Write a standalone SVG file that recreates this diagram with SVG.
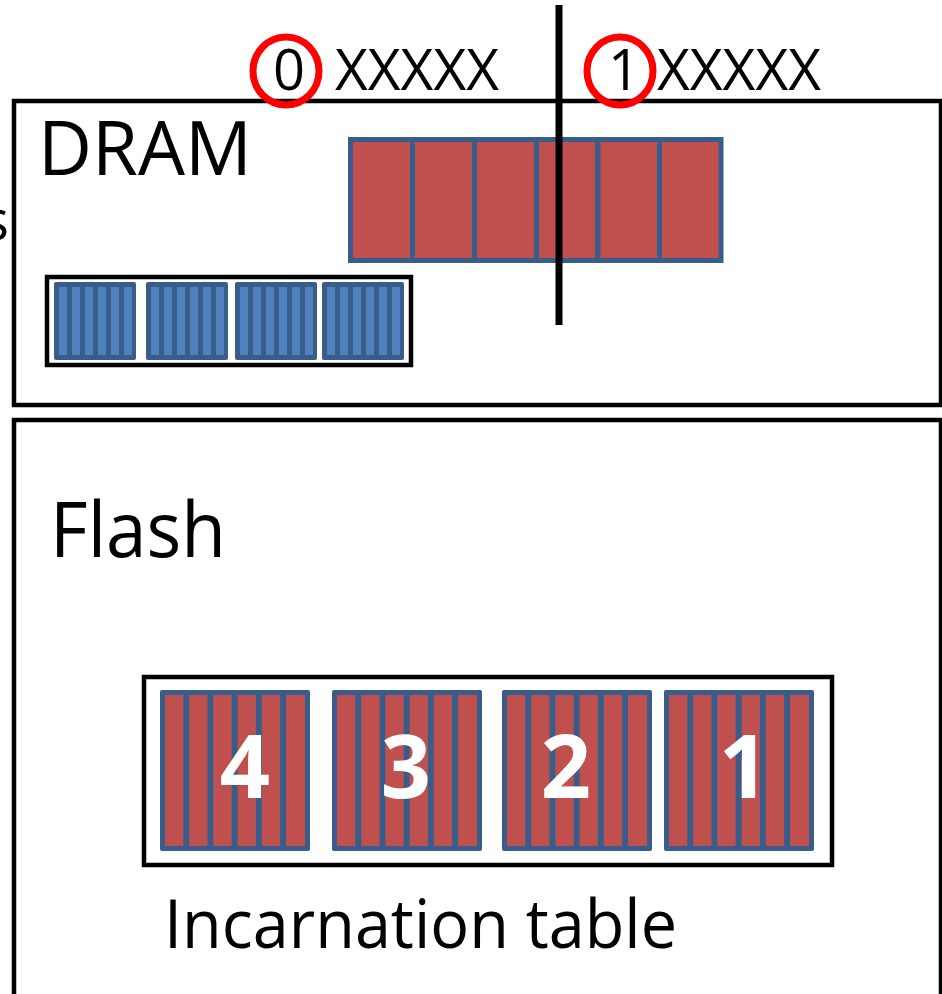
<svg xmlns="http://www.w3.org/2000/svg" width="942" height="994" viewBox="0 0 942 994">
  <style>
    .txt { font-family: "Open Sans", "Noto Sans", "Liberation Sans", sans-serif; fill: #000; }
    .num { font-family: "Open Sans", "Noto Sans", "Liberation Sans", sans-serif; font-weight: bold; fill: #fff; text-anchor: middle; font-size: 88px; }
    .box { fill: none; stroke: #000; stroke-width: 4.5; }
    .mark { fill: none; stroke: #ff0000; stroke-width: 7; }
    .cell { fill: #C0504D; stroke: #385D8A; stroke-width: 5; }
    .blk { fill: #385D8A; }
    .bstripe { fill: #4F81BD; }
    .rstripe { fill: #C0504D; }
  </style>
  <defs>
    <!-- small DRAM page: dark frame with 6 light stripes -->
    <g id="bluePage">
      <rect class="blk" x="0" y="0" width="82" height="78" rx="2"/>
      <rect class="bstripe" x="5" y="5" width="8" height="68"/>
      <rect class="bstripe" x="18" y="5" width="8" height="68"/>
      <rect class="bstripe" x="31" y="5" width="8" height="68"/>
      <rect class="bstripe" x="44" y="5" width="8" height="68"/>
      <rect class="bstripe" x="57" y="5" width="8" height="68"/>
      <rect class="bstripe" x="70" y="5" width="8" height="68"/>
    </g>
    <!-- flash page: dark frame with 6 red stripes -->
    <g id="redPage">
      <rect class="blk" x="0" y="0" width="150" height="161" rx="2"/>
      <rect class="rstripe" x="5" y="5" width="18.3" height="151"/>
      <rect class="rstripe" x="29.2" y="5" width="18.3" height="151"/>
      <rect class="rstripe" x="53.4" y="5" width="18.3" height="151"/>
      <rect class="rstripe" x="77.6" y="5" width="18.3" height="151"/>
      <rect class="rstripe" x="101.8" y="5" width="18.3" height="151"/>
      <rect class="rstripe" x="126" y="5" width="19" height="151"/>
    </g>
  </defs>

  <rect width="942" height="994" fill="#fff"/>

  <!-- partial label at the left edge -->
  <text class="txt" x="9" y="240" font-size="56" text-anchor="end">s</text>

  <!-- DRAM region -->
  <g id="dram">
    <rect class="box" x="14" y="101" width="927" height="304"/>
    <text class="txt" x="38" y="175" font-size="75" textLength="214" lengthAdjust="spacingAndGlyphs">DRAM</text>
  </g>

  <!-- Flash region -->
  <g id="flash">
    <rect class="box" x="14" y="420" width="927" height="600"/>
    <text class="txt" x="50" y="557" font-size="76" textLength="176" lengthAdjust="spacingAndGlyphs">Flash</text>
  </g>

  <!-- DRAM buffer: six red cells -->
  <g id="dram-buffer">
    <rect class="cell" x="350.5" y="139.5" width="62" height="121"/>
    <rect class="cell" x="412.5" y="139.5" width="62" height="121"/>
    <rect class="cell" x="474.5" y="139.5" width="62" height="121"/>
    <rect class="cell" x="536.5" y="139.5" width="61.5" height="121"/>
    <rect class="cell" x="598" y="139.5" width="61.5" height="121"/>
    <rect class="cell" x="659.5" y="139.5" width="61.5" height="121"/>
  </g>

  <!-- cached incarnation table in DRAM -->
  <g id="dram-table">
    <rect class="box" x="47" y="277" width="364" height="88"/>
    <use href="#bluePage" x="54" y="282"/>
    <use href="#bluePage" x="146" y="282"/>
    <use href="#bluePage" x="235" y="282"/>
    <use href="#bluePage" x="322" y="282"/>
  </g>

  <!-- incarnation table in flash -->
  <g id="flash-table">
    <rect class="box" x="144" y="677" width="688" height="188"/>
    <use href="#redPage" x="160" y="690"/>
    <use href="#redPage" x="332" y="690"/>
    <use href="#redPage" x="502" y="690"/>
    <use href="#redPage" x="664" y="690"/>
    <text class="num" x="245" y="798">4</text>
    <text class="num" x="406" y="798">3</text>
    <text class="num" x="566" y="798">2</text>
    <text class="num" x="744" y="798">1</text>
    <text class="txt" x="164" y="948" font-size="67" textLength="513" lengthAdjust="spacingAndGlyphs">Incarnation table</text>
  </g>

  <!-- address labels with highlighted leading bit -->
  <g id="addr0">
    <text class="txt" x="273" y="90" font-size="56">0</text>
    <text class="txt" x="335" y="90" font-size="56" textLength="164" lengthAdjust="spacingAndGlyphs">XXXXX</text>
    <ellipse class="mark" cx="286" cy="71" rx="33" ry="34"/>
  </g>
  <g id="addr1">
    <text class="txt" x="608" y="90" font-size="56">1</text>
    <text class="txt" x="657" y="90" font-size="56" textLength="164" lengthAdjust="spacingAndGlyphs">XXXXX</text>
    <ellipse class="mark" cx="620" cy="71" rx="33" ry="34"/>
  </g>

  <!-- divider between the two address halves -->
  <g id="connectors">
    <line x1="559" y1="5" x2="559" y2="325" stroke="#000" stroke-width="7"/>
  </g>
</svg>
